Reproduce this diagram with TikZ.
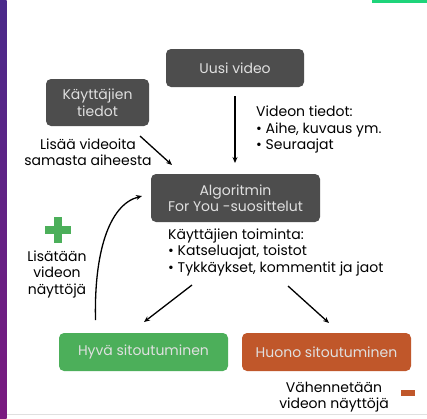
\documentclass[tikz,border=0pt]{standalone}
\usepackage{fontspec}
\setmainfont{Poppins}
\usetikzlibrary{arrows.meta,positioning}
\definecolor{boxgray}{HTML}{4D4D4D}
\definecolor{goodgreen}{HTML}{4CAF5A}
\definecolor{badorange}{HTML}{C0572A}
\definecolor{purpletop}{HTML}{4A2A8A}
\definecolor{purplebot}{HTML}{7A1A80}
\definecolor{topgreen}{HTML}{1ED47A}
\begin{document}
\begin{tikzpicture}[x=1pt,y=-1pt,
  box/.style={rounded corners=5pt, text=white!88!black, font=\fontsize{14}{16.5}\selectfont, align=center, inner sep=0pt},
  lbl/.style={font=\fontsize{14}{16.5}\selectfont, inner sep=0pt},
  arr/.style={-{Stealth[length=6pt,width=5pt]}, line width=1.3pt, black}
]
\useasboundingbox (0,0) rectangle (427,418);
\fill[white] (0,0) rectangle (427,418);
\shade[top color=purpletop, bottom color=purplebot] (0,0) rectangle (6.5,418);
\fill[topgreen] (372,0) rectangle (427,3);
\fill[black!12] (6.5,413.5) rectangle (427,414.5);

\node[box, fill=boxgray, minimum width=138pt, minimum height=38pt] (uusi) at (235,68) {Uusi video};
\node[box, fill=boxgray, minimum width=103pt, minimum height=47pt] (kayt) at (97.5,102.5) {Käyttäjien\\tiedot};
\node[box, fill=boxgray, minimum width=169pt, minimum height=48pt] (algo) at (235.5,198) {Algoritmin\\For You -suosittelut};
\node[box, fill=goodgreen, minimum width=169pt, minimum height=38pt] (hyva) at (143.5,352) {Hyvä sitoutuminen};
\node[box, fill=badorange, minimum width=169pt, minimum height=38pt] (huono) at (326.5,352) {Huono sitoutuminen};

\node[lbl, anchor=west, align=left] (vtied) at (256,129.5) {Videon tiedot:\\• Aihe, kuvaus ym.\\• Seuraajat};
\node[lbl, align=center] (lisaa) at (88,152) {Lisää videoita\\samasta aiheesta};
\node[lbl, anchor=west, align=left] (ktoim) at (168,252) {Käyttäjien toiminta:\\• Katseluajat, toistot\\• Tykkäykset, kommentit ja jaot};
\node[lbl, align=center] (lisat) at (57,274) {Lisätään\\videon\\näyttöjä};
\node[lbl, align=center] (vahen) at (334,397) {Vähennetään\\videon näyttöjä};

\node[fill=goodgreen, minimum width=26pt, minimum height=8pt, inner sep=0pt] (plush) at (58,230) {};
\node[fill=goodgreen, minimum width=8pt, minimum height=26pt, inner sep=0pt] (plusv) at (58,230) {};
\node[fill=badorange, minimum width=14pt, minimum height=6pt, inner sep=0pt] (minus) at (408,393) {};

\coordinate (a1s) at (235,96);
\coordinate (a1e) at (235,163);
\coordinate (a2s) at (140,136);
\coordinate (a2e) at (172,165);
\coordinate (a3s) at (95.5,320);
\coordinate (a3e) at (142,196);
\coordinate (a4s) at (192,285);
\coordinate (a4e) at (144,322);
\coordinate (a5s) at (288,286);
\coordinate (a5e) at (329,323);

\draw[arr] (a1s) -- (a1e);
\draw[arr] (a2s) -- (a2e);
\draw[arr] (a3s) .. controls (94,255) and (108,205) .. (a3e);
\draw[arr] (a4s) -- (a4e);
\draw[arr] (a5s) -- (a5e);
\end{tikzpicture}
\end{document}
